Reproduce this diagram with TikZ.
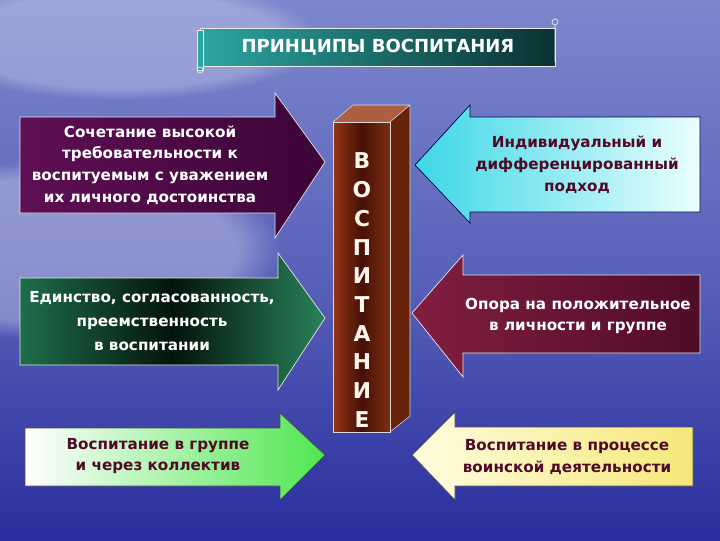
\documentclass[tikz,border=0pt]{standalone}
\usepackage{fontspec}
\setmainfont{DejaVu Sans}
\usetikzlibrary{fadings}
\definecolor{bgtop}{RGB}{125,135,205}
\definecolor{bgmid}{RGB}{90,98,185}
\definecolor{bgbot}{RGB}{42,46,158}
\definecolor{maroon}{RGB}{80,10,40}
\definecolor{brownfront}{RGB}{150,55,20}
\definecolor{browndark}{RGB}{70,16,6}
\definecolor{brownside}{RGB}{105,35,10}
\definecolor{browntop}{RGB}{175,95,65}
\begin{document}
\begin{tikzpicture}[x=0.025cm,y=-0.025cm,
    txt/.style={align=center,font=\bfseries\fontsize{10.8}{15.5}\selectfont},
    letter/.style={text=white!92!orange,font=\bfseries\fontsize{15.5}{16}\selectfont}]
\useasboundingbox (0,0) rectangle (720,540);
% background
\fill[top color=bgtop, bottom color=bgbot, middle color=bgmid] (0,0) rectangle (720,540);
\fill[white, opacity=.3, path fading=circle with fuzzy edge 20 percent] (60,250) ellipse (220 and 90);
\fill[white, opacity=.25, path fading=circle with fuzzy edge 20 percent] (120,40) ellipse (200 and 60);
% title scroll
\draw[white!85!gray, line width=.5pt, left color={rgb,255:red,45;green,165;blue,160}, right color={rgb,255:red,10;green,50;blue,50}] (200,28) rectangle (555,66);
\draw[white!85!gray, line width=.5pt, fill={rgb,255:red,45;green,165;blue,160}] (197,30) rectangle (203,70);
\draw[white!85!gray, line width=.5pt] (200,70) circle (3) (555,22) circle (3) (555,25)--(555,62);
\node[text=white, font=\bfseries\fontsize{12.8}{14}\selectfont] (title) at (378,47) {ПРИНЦИПЫ ВОСПИТАНИЯ};
% left arrows
\draw[white!80!gray, line width=.5pt, left color={rgb,255:red,95;green,15;blue,85}, right color={rgb,255:red,60;green,5;blue,55}]
    (20,117)--(275,117)--(275,93)--(325,162)--(275,238)--(275,213)--(20,213)--cycle;
\draw[white!80!gray, line width=.5pt, left color={rgb,255:red,30;green,110;blue,75}, right color={rgb,255:red,40;green,130;blue,90}, middle color={rgb,255:red,4;green,20;blue,12}]
    (20,278)--(278,278)--(278,253)--(325,318)--(278,390)--(278,365)--(20,365)--cycle;
\draw[black!70, line width=.5pt, left color=white, right color={rgb,255:red,80;green,230;blue,80}]
    (25,428)--(280,428)--(280,413)--(325,455)--(280,500)--(280,486)--(25,486)--cycle;
% right arrows
\draw[blue!30!black, line width=.5pt, left color={rgb,255:red,60;green,215;blue,230}, right color={rgb,255:red,235;green,255;blue,255}]
    (700,117)--(470,117)--(470,105)--(415,165)--(470,223)--(470,212)--(700,212)--cycle;
\draw[white!80!gray, line width=.5pt, left color={rgb,255:red,130;green,30;blue,65}, right color={rgb,255:red,80;green,12;blue,40}]
    (700,275)--(463,275)--(463,255)--(412,313)--(463,377)--(463,353)--(700,353)--cycle;
\draw[black!70, line width=.5pt, left color={rgb,255:red,255;green,252;blue,225}, right color={rgb,255:red,245;green,232;blue,120}]
    (693,427)--(455,427)--(455,412)--(412,455)--(455,500)--(455,486)--(693,486)--cycle;
% texts
\node[txt, text=white] (l1) at (150,165) {Сочетание высокой\\требовательности к\\воспитуемым с уважением\\их личного достоинства};
\node[txt, text=white, font=\bfseries\fontsize{10.8}{17}\selectfont] (l2) at (152,321) {Единство, согласованность,\\преемственность\\в воспитании};
\node[txt, text=maroon] (l3) at (158,456) {Воспитание в группе\\и через коллектив};
\node[txt, text=maroon] (r1) at (577,165) {Индивидуальный и\\дифференцированный\\подход};
\node[txt, text=white] (r2) at (578,316) {Опора на положительное\\в личности и группе};
\node[txt, text=maroon] (r3) at (567,457) {Воспитание в процессе\\воинской деятельности};
% column
\fill[brownside] (390,122)--(410,105)--(410,416)--(390,432)--cycle;
\fill[browntop] (333,122)--(353,105)--(410,105)--(390,122)--cycle;
\draw[white!70!gray, line width=.4pt, left color=brownfront, right color=brownfront!85!black, middle color=browndark] (333,122) rectangle (390,432);
\draw[white!70!gray, line width=.4pt] (333,122)--(353,105)--(410,105)--(410,416)--(390,432) (390,122)--(410,105);
\foreach \l [count=\i from 0] in {В,О,С,П,И,Т,А,Н,И,Е}
    \node[letter] (c\i) at (362,161+28.7*\i) {\l};
\end{tikzpicture}
\end{document}
